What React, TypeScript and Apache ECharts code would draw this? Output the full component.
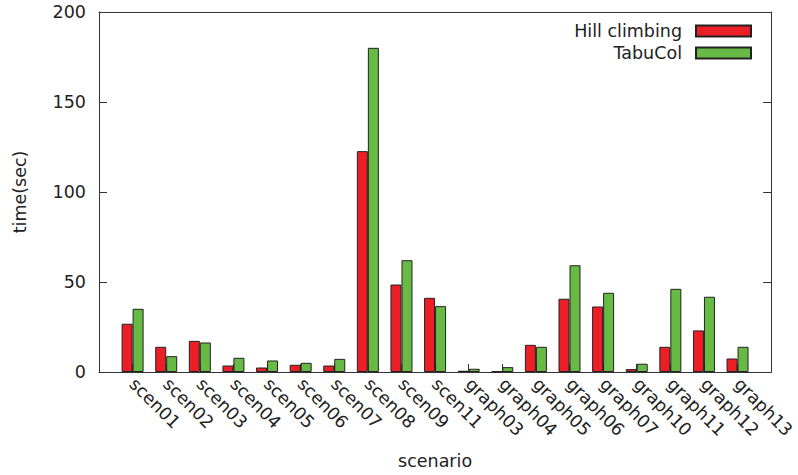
import React, { useEffect, useRef } from "react";
import * as echarts from "echarts";

const categories = [
  "scen01", "scen02", "scen03", "scen04", "scen05", "scen06", "scen07", "scen08", "scen09", "scen11",
  "graph03", "graph04", "graph05", "graph06", "graph07", "graph10", "graph11", "graph12", "graph13",
];
const hillClimbing = [26.8, 14.0, 17.3, 3.6, 2.5, 4.0, 3.6, 122.7, 48.6, 41.2, 0.7, 0.5, 15.1, 40.7, 36.4, 1.6, 14.0, 23.1, 7.5];
const tabuCol = [35.1, 8.8, 16.4, 7.9, 6.4, 5.1, 7.3, 180.1, 62.1, 36.6, 1.8, 2.7, 14.0, 59.3, 44.0, 4.6, 46.2, 41.8, 14.0];
const yTicks = [0, 50, 100, 150, 200];
const seriesNames = ["Hill climbing", "TabuCol"];

const FONT = "'DejaVu Sans', sans-serif";
const TEXT = "#222";
const LINE = "#333";
const FS = 17.5;

export default function App() {
  const ref = useRef<HTMLDivElement>(null);
  useEffect(() => {
    if (!ref.current) return;
    const chart = echarts.init(ref.current, null, { renderer: "svg" });
    chart.setOption({
      animation: false,
      textStyle: { fontFamily: FONT },
      grid: { left: 99, right: 25, top: 12, bottom: 103, containLabel: false },
      legend: {
        orient: "vertical",
        right: 46,
        top: 22,
        padding: 0,
        align: "right",
        itemWidth: 55,
        itemHeight: 11,
        itemGap: 4,
        icon: "rect",
        textStyle: { fontFamily: FONT, fontSize: FS, color: TEXT, padding: [0, 9, 0, 0] },
        data: seriesNames,
      },
      xAxis: [
        {
          type: "value",
          min: -1,
          max: 19,
          interval: 1,
          name: "scenario",
          nameLocation: "middle",
          nameGap: 80,
          nameTextStyle: { fontFamily: FONT, fontSize: FS, color: TEXT },
          axisLine: { show: true, onZero: false, lineStyle: { color: LINE, width: 1 } },
          axisTick: { show: true, inside: true, length: 8, lineStyle: { color: LINE } },
          splitLine: { show: false },
          axisLabel: {
            rotate: -45,
            margin: 9,
            fontFamily: FONT,
            fontSize: FS,
            color: TEXT,
            showMinLabel: false,
            showMaxLabel: false,
            formatter: (v: number) => (v >= 0 && v < categories.length ? categories[v] : ""),
          },
        },
        {
          type: "value",
          position: "top",
          min: -1,
          max: 19,
          interval: 1,
          axisLine: { show: true, onZero: false, lineStyle: { color: LINE, width: 1 } },
          axisTick: { show: false },
          axisLabel: { show: false },
          splitLine: { show: false },
        },
      ],
      yAxis: [
        {
          type: "value",
          min: 0,
          max: 200,
          interval: 50,
          name: "time(sec)",
          nameLocation: "middle",
          nameGap: 70,
          nameTextStyle: { fontFamily: FONT, fontSize: FS, color: TEXT },
          axisLine: { show: true, onZero: false, lineStyle: { color: LINE, width: 1 } },
          axisTick: { show: true, inside: true, length: 8, lineStyle: { color: LINE } },
          splitLine: { show: false },
          axisLabel: {
            margin: 13,
            fontFamily: FONT,
            fontSize: FS,
            color: TEXT,
            formatter: (v: number) => (yTicks.includes(v) ? String(v) : ""),
          },
        },
        {
          type: "value",
          position: "right",
          min: 0,
          max: 200,
          interval: 50,
          axisLine: { show: true, onZero: false, lineStyle: { color: LINE, width: 1 } },
          axisTick: { show: true, inside: true, length: 8, lineStyle: { color: LINE } },
          axisLabel: { show: false },
          splitLine: { show: false },
        },
      ],
      series: [
        {
          name: seriesNames[0],
          type: "bar",
          xAxisIndex: 0,
          yAxisIndex: 0,
          barWidth: 11,
          barGap: "0%",
          itemStyle: { color: "#ed1f26", borderColor: "#222", borderWidth: 1 },
          data: hillClimbing.map((v, i) => [i, v]),
        },
        {
          name: seriesNames[1],
          type: "bar",
          xAxisIndex: 0,
          yAxisIndex: 0,
          barWidth: 11,
          barGap: "0%",
          itemStyle: { color: "#67bb45", borderColor: "#222", borderWidth: 1 },
          data: tabuCol.map((v, i) => [i, v]),
        },
      ],
    });
    return () => chart.dispose();
  }, []);
  return <div ref={ref} style={{ width: 798, height: 475, position: "absolute", left: 0, top: 0 }} />;
}
